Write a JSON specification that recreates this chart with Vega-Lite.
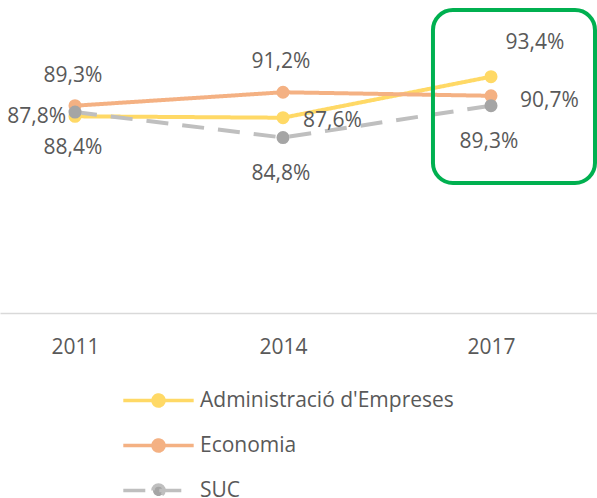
{
  "$schema": "https://vega.github.io/schema/vega-lite/v6.json",
  "width": 597,
  "height": 283,
  "autosize": "none",
  "padding": {"left": 0, "top": 30, "right": 0, "bottom": 185},
  "background": "white",
  "config": {
    "view": {"stroke": null},
    "font": "Open Sans",
    "locale": {"number": {"decimal": ",", "thousands": ".", "grouping": [3], "currency": ["", " €"]}},
    "text": {"font": "Open Sans", "fontSize": 21, "color": "#595959"}
  },
  "datasets": {
    "main": [
      {"series": "Administració d'Empreses", "year": 2011, "value": 0.878},
      {"series": "Administració d'Empreses", "year": 2014, "value": 0.876},
      {"series": "Administració d'Empreses", "year": 2017, "value": 0.934},
      {"series": "Economia", "year": 2011, "value": 0.893},
      {"series": "Economia", "year": 2014, "value": 0.912},
      {"series": "Economia", "year": 2017, "value": 0.907},
      {"series": "SUC", "year": 2011, "value": 0.884},
      {"series": "SUC", "year": 2014, "value": 0.848},
      {"series": "SUC", "year": 2017, "value": 0.893}
    ],
    "box": [
      {"x": 2016.163, "x2": 2018.5, "y": 1.0283, "y2": 0.7837}
    ]
  },
  "data": {"name": "main"},
  "layer": [
    {
      "mark": {"type": "line", "strokeWidth": 4},
      "encoding": {
        "x": {"field": "year", "type": "quantitative",
          "scale": {"domain": [2009.918, 2018.529], "nice": false, "zero": false},
          "axis": {"values": [2011, 2014, 2017], "format": "d", "title": null, "grid": false, "ticks": false,
            "domainColor": "#d9d9d9", "domainWidth": 1.5, "labelFontSize": 21, "labelColor": "#595959",
            "labelFont": "Open Sans", "labelPadding": 23, "labelFlush": false, "labelOverlap": false}},
        "y": {"field": "value", "type": "quantitative", "scale": {"domain": [0.6, 1.0], "nice": false, "zero": false}, "axis": null},
        "color": {"field": "series", "type": "nominal",
          "scale": {"domain": ["Administració d'Empreses", "Economia", "SUC"], "range": ["#FFD966", "#F4B183", "#BFBFBF"]},
          "legend": {"title": null, "orient": "none", "legendX": 148, "legendY": 360, "direction": "vertical",
            "symbolType": "M-6.4,0L6.4,0M-1,0A1,1,0,1,1,1,0A1,1,0,1,1,-1,0Z",
            "symbolSize": 121, "symbolStrokeWidth": 3.5, "labelOffset": 31, "labelFontSize": 21,
            "labelColor": "#595959", "labelFont": "Open Sans", "rowPadding": 20, "labelLimit": 400,
            "encode": {"symbols": {"update": {
              "fill": {"signal": "datum.value == 'SUC' ? '#A5A5A5' : scale('color', datum.value)"},
              "fillOpacity": {"value": 1},
              "strokeDash": {"signal": "datum.value == 'SUC' ? [23, 23, 120, 0.001] : [1, 0]"}}}}}},
        "strokeDash": {"field": "series", "type": "nominal",
          "scale": {"domain": ["Administració d'Empreses", "Economia", "SUC"], "range": [[1, 0], [1, 0], [22, 14]]},
          "legend": null}
      }
    },
    {
      "data": {"name": "box"},
      "mark": {"type": "rect", "filled": false, "stroke": "#00B050", "strokeWidth": 4, "cornerRadius": 20},
      "encoding": {
        "x": {"field": "x", "type": "quantitative"},
        "x2": {"field": "x2"},
        "y": {"field": "y", "type": "quantitative"},
        "y2": {"field": "y2"}
      }
    },
    {
      "mark": {"type": "point", "filled": true, "size": 170, "opacity": 1, "strokeWidth": 0},
      "encoding": {
        "x": {"field": "year", "type": "quantitative"},
        "y": {"field": "value", "type": "quantitative"},
        "fill": {"field": "series", "type": "nominal",
          "scale": {"domain": ["Administració d'Empreses", "Economia", "SUC"], "range": ["#FFD966", "#F4B183", "#A5A5A5"]}, "legend": null}
      }
    },
    {
      "transform": [{"filter": "datum.series == 'Economia' && datum.year < 2017"}],
      "mark": {"type": "text", "dx": -2, "dy": -30, "baseline": "middle", "align": "center"},
      "encoding": {
        "x": {"field": "year", "type": "quantitative"},
        "y": {"field": "value", "type": "quantitative"},
        "text": {"field": "value", "type": "quantitative", "format": ".1%"}
      }
    },
    {
      "transform": [{"filter": "datum.series == 'Administració d\\'Empreses' && datum.year == 2017"}],
      "mark": {"type": "text", "dx": 44, "dy": -34, "baseline": "middle", "align": "center"},
      "encoding": {
        "x": {"field": "year", "type": "quantitative"},
        "y": {"field": "value", "type": "quantitative"},
        "text": {"field": "value", "type": "quantitative", "format": ".1%"}
      }
    },
    {
      "transform": [{"filter": "datum.series == 'SUC'"}],
      "mark": {"type": "text", "dx": -2, "dy": 36, "baseline": "middle", "align": "center"},
      "encoding": {
        "x": {"field": "year", "type": "quantitative"},
        "y": {"field": "value", "type": "quantitative"},
        "text": {"field": "value", "type": "quantitative", "format": ".1%"}
      }
    },
    {
      "transform": [{"filter": "datum.series == 'Administració d\\'Empreses' && datum.year == 2014"}],
      "mark": {"type": "text", "dx": 20, "dy": 3, "baseline": "middle", "align": "left"},
      "encoding": {
        "x": {"field": "year", "type": "quantitative"},
        "y": {"field": "value", "type": "quantitative"},
        "text": {"field": "value", "type": "quantitative", "format": ".1%"}
      }
    },
    {
      "transform": [{"filter": "datum.series == 'Economia' && datum.year == 2017"}],
      "mark": {"type": "text", "dx": 29, "dy": 5, "baseline": "middle", "align": "left"},
      "encoding": {
        "x": {"field": "year", "type": "quantitative"},
        "y": {"field": "value", "type": "quantitative"},
        "text": {"field": "value", "type": "quantitative", "format": ".1%"}
      }
    },
    {
      "transform": [{"filter": "datum.series == 'Administració d\\'Empreses' && datum.year == 2011"}],
      "mark": {"type": "text", "dx": -9, "dy": 1, "baseline": "middle", "align": "right"},
      "encoding": {
        "x": {"field": "year", "type": "quantitative"},
        "y": {"field": "value", "type": "quantitative"},
        "text": {"field": "value", "type": "quantitative", "format": ".1%"}
      }
    }
  ]
}
